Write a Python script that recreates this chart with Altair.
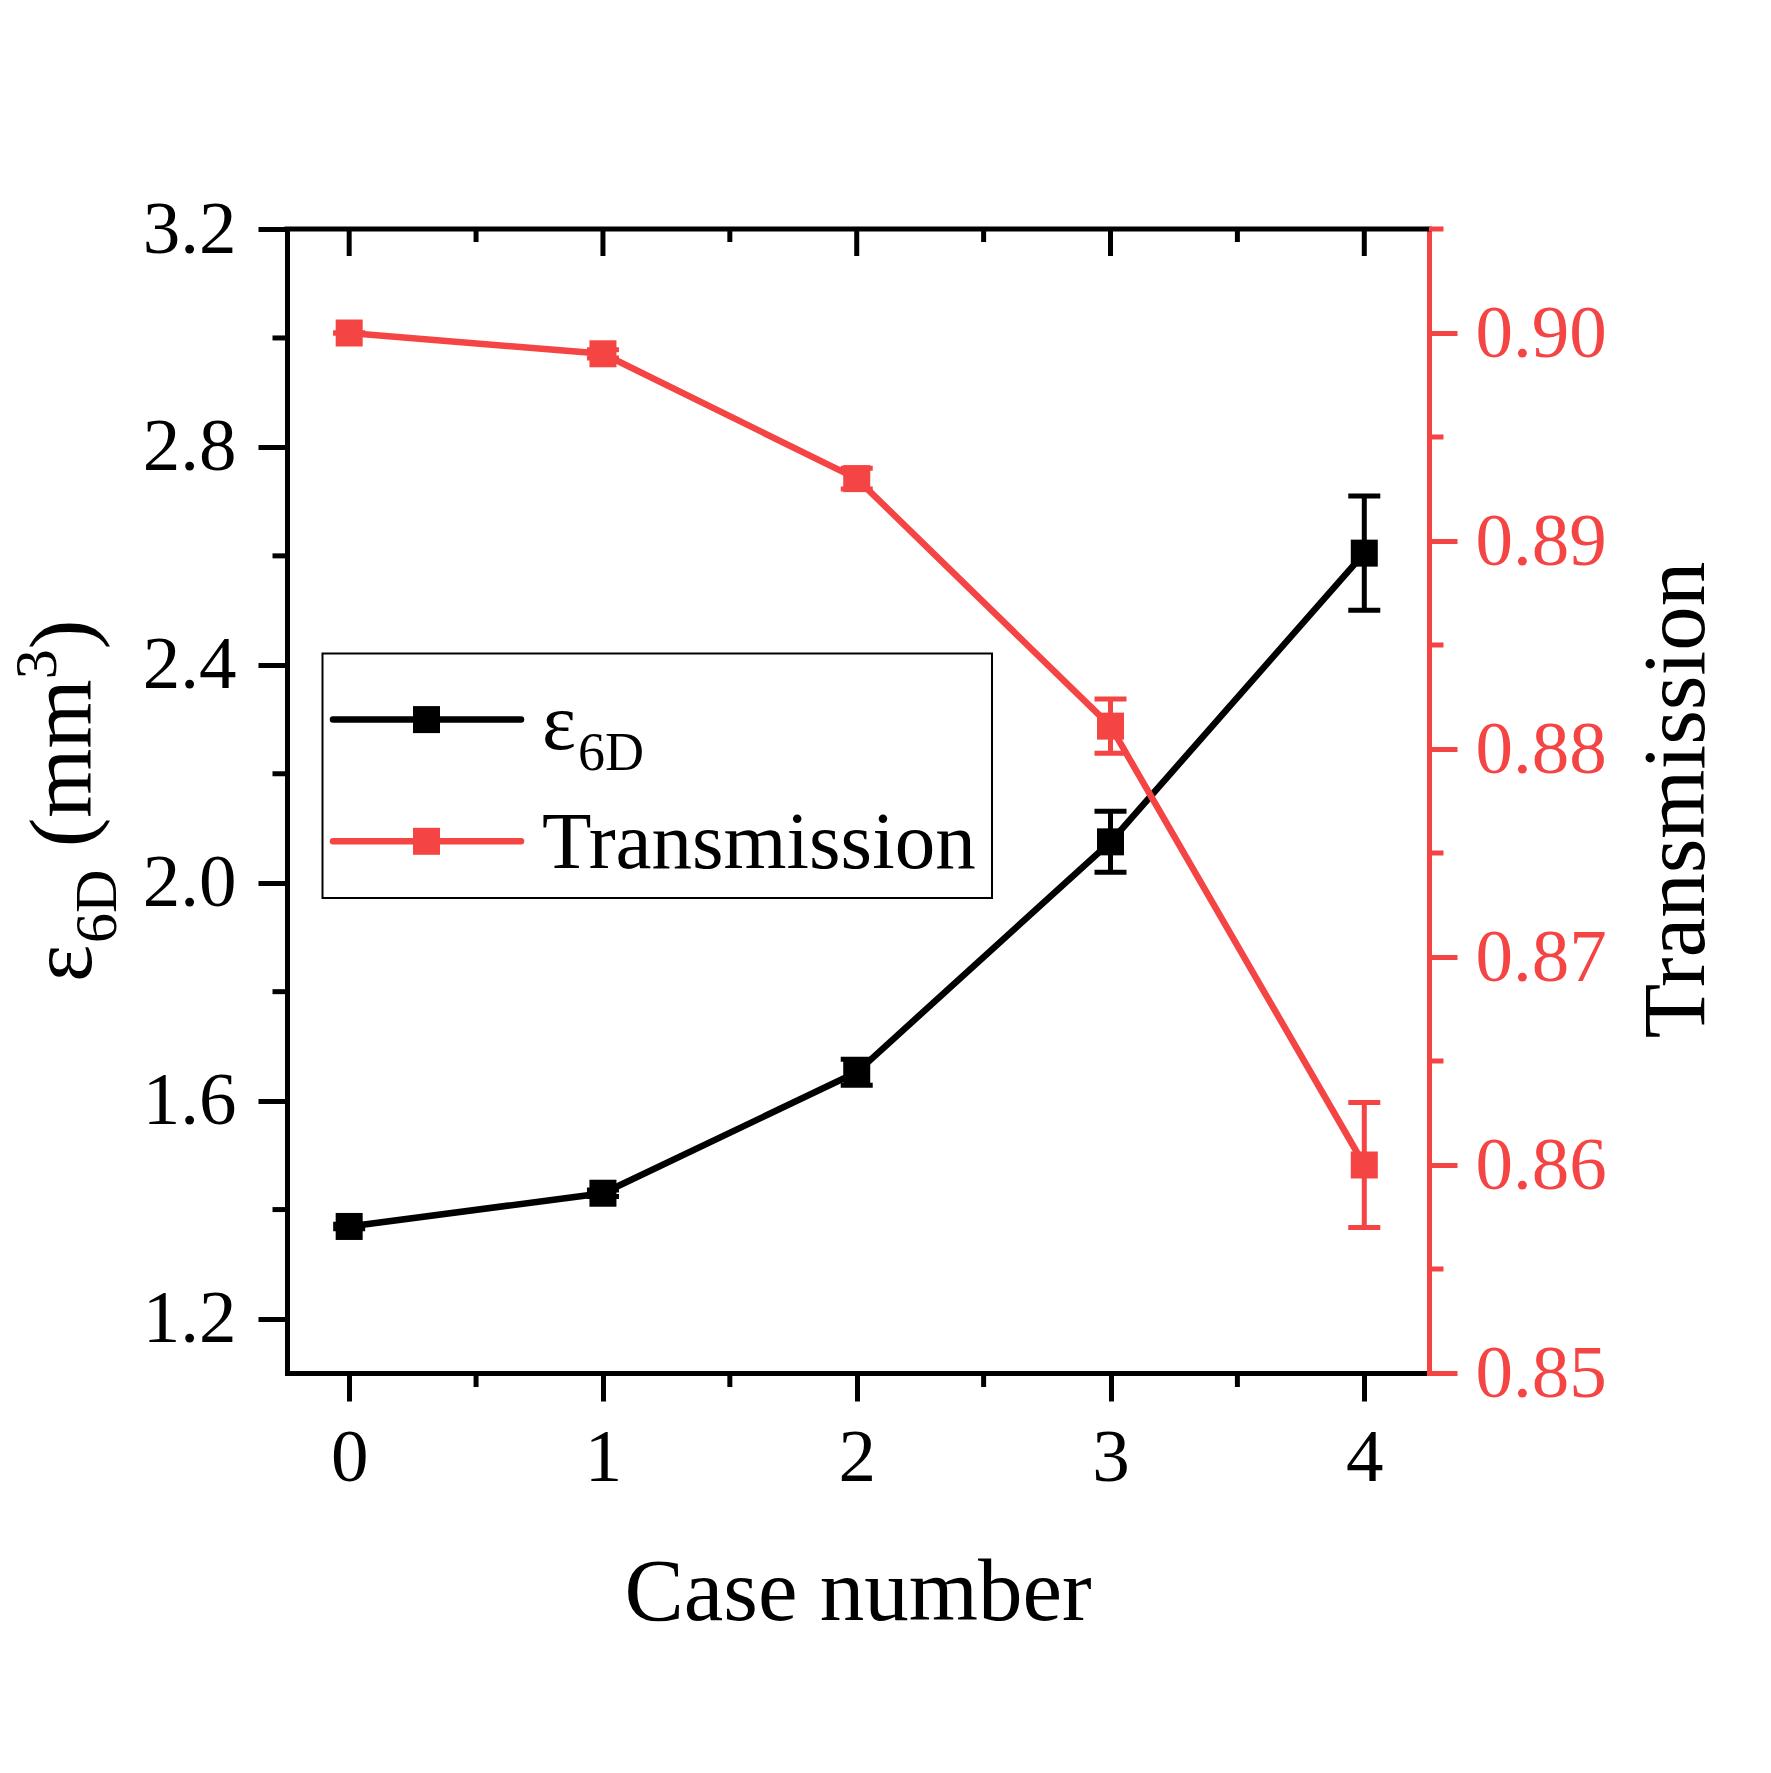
import altair as alt
import pandas as pd

# ---------------- data ----------------
CASES = [0, 1, 2, 3, 4]
EPS = [1.369, 1.430, 1.652, 2.075, 2.605]
EPS_ERR = [0.004, 0.006, 0.024, 0.056, 0.105]
TRANS = [0.9000, 0.8990, 0.8930, 0.8811, 0.8600]
TRANS_ERR = [0.0, 0.0002, 0.0005, 0.0013, 0.0030]

X_MAJOR = [0, 1, 2, 3, 4]
X_MINOR = [0.5, 1.5, 2.5, 3.5]
LEFT_MAJOR = [1.2, 1.6, 2.0, 2.4, 2.8, 3.2]
LEFT_MINOR = [1.4, 1.8, 2.2, 2.6, 3.0]
RIGHT_MAJOR = [0.85, 0.86, 0.87, 0.88, 0.89, 0.90]
RIGHT_MINOR = [0.855, 0.865, 0.875, 0.885, 0.895, 0.905]

X_TITLE = "Case number"
Y2_TITLE = "Transmission"
Y_TITLE_PARTS = ["ε", "6D", "(mm", "3", ")"]
LEGEND_TEXT = ["ε", "6D", "Transmission"]

# ---------------- styling / layout ----------------
W, H = 1142, 1144
BLACK = "#000000"
RED = "#F44444"
FONT = "Liberation Serif"
LW = 5            # axis / error-bar line width
DLW = 6.5         # data line width
TICK_FS = 75
TITLE_FS = 89
SUB_FS = 60
LEG_FS = 81
LEG_SUB_FS = 54

df = pd.DataFrame({"case": CASES, "eps": EPS, "eps_err": EPS_ERR,
                   "trans": TRANS, "trans_err": TRANS_ERR})
df["eps_lo"] = df["eps"] - df["eps_err"]
df["eps_hi"] = df["eps"] + df["eps_err"]
df["trans_lo"] = df["trans"] - df["trans_err"]
df["trans_hi"] = df["trans"] + df["trans_err"]

one = pd.DataFrame({"k": [0]})

x_scale = alt.Scale(domain=[-0.245, 4.255], nice=False, zero=False)
yl_scale = alt.Scale(domain=[1.1, 3.2], nice=False, zero=False)
yr_scale = alt.Scale(domain=[0.85, 0.905], nice=False, zero=False)

x_axis = alt.Axis(values=X_MAJOR, format="d", title=None, grid=False, orient="bottom",
                  labelFont=FONT, labelFontSize=TICK_FS, labelColor=BLACK, labelPadding=20,
                  labelFlush=False, labelOverlap=False,
                  tickSize=28, tickWidth=LW, tickColor=BLACK,
                  domainColor=BLACK, domainWidth=LW, domainCap="square")
yl_axis = alt.Axis(values=LEFT_MAJOR, format=".1f", title=None, grid=False, orient="left",
                   labelFont=FONT, labelFontSize=TICK_FS, labelColor=BLACK, labelPadding=22,
                   labelFlush=False, labelOverlap=False,
                   tickSize=29, tickWidth=LW, tickColor=BLACK,
                   domainColor=BLACK, domainWidth=LW, domainCap="square")
yr_axis = alt.Axis(values=RIGHT_MAJOR, format=".2f", title=None, grid=False, orient="right",
                   labelFont=FONT, labelFontSize=TICK_FS, labelColor=RED, labelPadding=18,
                   labelFlush=False, labelOverlap=False,
                   tickSize=28, tickWidth=LW, tickColor=RED,
                   domainColor=RED, domainWidth=LW, domainCap="square")


def X(field):
    return alt.X(f"{field}:Q", scale=x_scale, axis=x_axis)


def YL(field):
    return alt.Y(f"{field}:Q", scale=yl_scale, axis=yl_axis)


def YR(field):
    return alt.Y(f"{field}:Q", scale=yr_scale, axis=yr_axis)


base = alt.Chart(df)

# ---------------- black series (left axis) ----------------
eps_line = base.mark_line(color=BLACK, strokeWidth=DLW).encode(x=X("case"), y=YL("eps"))
eps_err = base.mark_rule(color=BLACK, strokeWidth=LW).encode(
    x=X("case"), y=YL("eps_lo"), y2=alt.Y2("eps_hi:Q"))
eps_cap_lo = base.mark_tick(color=BLACK, orient="horizontal", size=32, thickness=LW,
                            opacity=1).encode(x=X("case"), y=YL("eps_lo"))
eps_cap_hi = base.mark_tick(color=BLACK, orient="horizontal", size=32, thickness=LW,
                            opacity=1).encode(x=X("case"), y=YL("eps_hi"))
eps_pts = base.mark_square(color=BLACK, size=729, opacity=1, filled=True).encode(
    x=X("case"), y=YL("eps"))

left_minor = alt.Chart(pd.DataFrame({"v": LEFT_MINOR})).mark_rule(
    color=BLACK, strokeWidth=LW).encode(y=YL("v"), x=alt.value(-14.5), x2=alt.value(0))
bottom_minor = alt.Chart(pd.DataFrame({"v": X_MINOR})).mark_rule(
    color=BLACK, strokeWidth=LW).encode(x=X("v"), y=alt.value(H), y2=alt.value(H + 14))
top_major = alt.Chart(pd.DataFrame({"v": X_MAJOR})).mark_rule(
    color=BLACK, strokeWidth=LW).encode(x=X("v"), y=alt.value(0), y2=alt.value(27))
top_minor = alt.Chart(pd.DataFrame({"v": X_MINOR})).mark_rule(
    color=BLACK, strokeWidth=LW).encode(x=X("v"), y=alt.value(0), y2=alt.value(13))
top_border = alt.Chart(one).mark_rule(color=BLACK, strokeWidth=LW, strokeCap="square").encode(
    x=alt.value(0), x2=alt.value(W), y=alt.value(0))

# ---------------- legend ----------------
leg_box = alt.Chart(one).mark_rect(filled=False, stroke=BLACK, strokeWidth=2).encode(
    x=alt.value(35.5), x2=alt.value(705), y=alt.value(424.5), y2=alt.value(669))
leg_layers = [leg_box]
for yy, col in [(490.6, BLACK), (612.3, RED)]:
    leg_layers.append(alt.Chart(one).mark_rule(color=col, strokeWidth=DLW, strokeCap="round").encode(
        x=alt.value(46), x2=alt.value(234), y=alt.value(yy)))
    leg_layers.append(alt.Chart(one).mark_square(color=col, size=729, opacity=1, filled=True).encode(
        x=alt.value(139.5), y=alt.value(yy)))
leg_layers.append(alt.Chart(one).mark_text(
    text=LEGEND_TEXT[0], font=FONT, fontSize=LEG_FS, color=BLACK, align="left",
    baseline="alphabetic").encode(x=alt.value(255), y=alt.value(519.6)))
leg_layers.append(alt.Chart(one).mark_text(
    text=LEGEND_TEXT[1], font=FONT, fontSize=LEG_SUB_FS, color=BLACK, align="left",
    baseline="alphabetic").encode(x=alt.value(291), y=alt.value(541)))
leg_layers.append(alt.Chart(one).mark_text(
    text=LEGEND_TEXT[2], font=FONT, fontSize=LEG_FS, color=BLACK, align="left",
    baseline="alphabetic").encode(x=alt.value(255), y=alt.value(639)))

# ---------------- titles ----------------
x_title = alt.Chart(one).mark_text(
    text=X_TITLE, font=FONT, fontSize=TITLE_FS, color=BLACK, align="center",
    baseline="alphabetic").encode(x=alt.value(W / 2), y=alt.value(1391))
y2_title = alt.Chart(one).mark_text(
    text=Y2_TITLE, font=FONT, fontSize=TITLE_FS, color=BLACK, align="center",
    baseline="alphabetic", angle=270).encode(x=alt.value(1417), y=alt.value(571))

# left title built from pieces (main / subscript / superscript), reading upwards
adv = {"ε": 0.439, "6D": 1.222, "(mm": 1.889, "3": 0.5, ")": 0.333}
kinds = ["main", "sub", "main", "sup", "main"]
xpos = {"main": -196, "sub": -171, "sup": -231}
sizes = {"main": TITLE_FS, "sub": SUB_FS, "sup": SUB_FS}
y_title_layers = []
cur = 753.0
for part, kind in zip(Y_TITLE_PARTS, kinds):
    y_title_layers.append(alt.Chart(one).mark_text(
        text=part, font=FONT, fontSize=sizes[kind], color=BLACK, align="left",
        baseline="alphabetic", angle=270).encode(x=alt.value(xpos[kind]), y=alt.value(cur)))
    cur -= adv[part] * sizes[kind]
    if part == "6D":
        cur -= 0.25 * TITLE_FS

black = alt.layer(eps_line, eps_err, eps_cap_lo, eps_cap_hi, eps_pts,
                  left_minor, bottom_minor, top_major, top_minor, top_border,
                  *leg_layers, x_title, y2_title, *y_title_layers)

# ---------------- red series (right axis) ----------------
tr_line = base.mark_line(color=RED, strokeWidth=DLW).encode(x=X("case"), y=YR("trans"))
tr_err = base.mark_rule(color=RED, strokeWidth=LW).encode(
    x=X("case"), y=YR("trans_lo"), y2=alt.Y2("trans_hi:Q"))
tr_cap_lo = base.mark_tick(color=RED, orient="horizontal", size=32, thickness=LW,
                           opacity=1).encode(x=X("case"), y=YR("trans_lo"))
tr_cap_hi = base.mark_tick(color=RED, orient="horizontal", size=32, thickness=LW,
                           opacity=1).encode(x=X("case"), y=YR("trans_hi"))
tr_pts = base.mark_square(color=RED, size=729, opacity=1, filled=True).encode(
    x=X("case"), y=YR("trans"))
right_minor = alt.Chart(pd.DataFrame({"v": RIGHT_MINOR})).mark_rule(
    color=RED, strokeWidth=LW).encode(y=YR("v"), x=alt.value(W), x2=alt.value(W + 14.5))

red = alt.layer(tr_line, tr_err, tr_cap_lo, tr_cap_hi, tr_pts, right_minor)

chart = alt.layer(black, red).resolve_scale(y="independent").properties(
    width=W, height=H,
    autosize=alt.AutoSizeParams(type="none"),
    padding={"left": 279, "top": 221, "right": 330, "bottom": 380},
    background="white",
).configure_view(stroke=None).configure(font=FONT)

chart.save("out.html", embed_options={"renderer": "svg", "actions": False})
